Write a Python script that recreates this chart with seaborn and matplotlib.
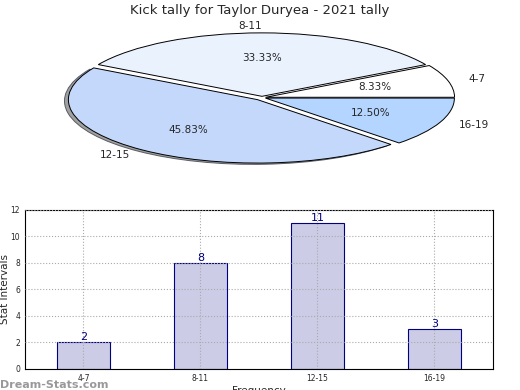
import matplotlib
matplotlib.use("Agg")
import matplotlib.pyplot as plt
import matplotlib.patches as mpatches
import pandas as pd
import seaborn as sns

intervals = ['4-7', '8-11', '12-15', '16-19']
counts = [2, 8, 11, 3]
pie_colors = ['#ffffff', '#eaf2fe', '#c4d8fc', '#b4d5ff']
explode = [0.02, 0.02, 0.04, 0.02]

df = pd.DataFrame({'interval': intervals, 'count': counts})

sns.set_style('white')
plt.rcParams['font.family'] = ['DejaVu Sans']

fig = plt.figure(figsize=(5.2, 3.9), dpi=100)
fig.suptitle('Kick tally for Taylor Duryea - 2021 tally', fontsize=9.5, y=0.99)

# pie on top, squashed into an ellipse
ax1 = fig.add_axes([0.035, 0.535, 0.9375, 0.423])
wedges, texts, autotexts = ax1.pie(
    counts, labels=intervals, colors=pie_colors, explode=explode,
    autopct='%.2f%%', startangle=0, counterclock=True,
    labeldistance=1.11, pctdistance=0.6,
    wedgeprops={'edgecolor': 'black', 'linewidth': 0.7},
    textprops={'fontsize': 7.5})
sh = mpatches.Shadow(wedges[2], -0.015, -0.015, facecolor='#888888', alpha=0.8)
sh.set_zorder(wedges[2].get_zorder() - 0.1)
ax1.add_patch(sh)
ax1.set_aspect('auto')
ax1.set_xlim(-1.29, 1.29)
ax1.set_ylim(-1.32, 1.28)
ax1.axis('off')

# bar chart below
ax2 = fig.add_axes([0.048, 0.054, 0.9, 0.408])
sns.barplot(data=df, x='interval', y='count', color='#ccccE6', saturation=1,
            edgecolor='#000080', linewidth=0.8, width=0.45, ax=ax2)
for i, v in enumerate(counts):
    ax2.text(i, v, str(v), ha='center', va='bottom', color='#000080', fontsize=8)
ax2.set_xlim(-0.5, 3.5)
ax2.set_ylim(0, 12)
ax2.set_yticks(range(0, 13, 2))
ax2.grid(True, linestyle=':', color='#aaaaaa', linewidth=0.8)
ax2.set_axisbelow(False)
for b in ax2.patches:
    b.set_zorder(1)
ax2.tick_params(labelsize=5.5, length=2, direction='in')
ax2.set_xlabel('Frequency', fontsize=7.5, labelpad=2)
ax2.set_ylabel('Stat Intervals', fontsize=7.5)
ax2.yaxis.set_label_coords(-0.033, 0.5)
for s in ax2.spines.values():
    s.set_color('black')
    s.set_linewidth(0.8)

fig.text(0.0, 0.005, 'Dream-Stats.com', fontsize=8, color='#999999', fontweight='bold')

plt.savefig('out.png', dpi=100)
plt.close()
